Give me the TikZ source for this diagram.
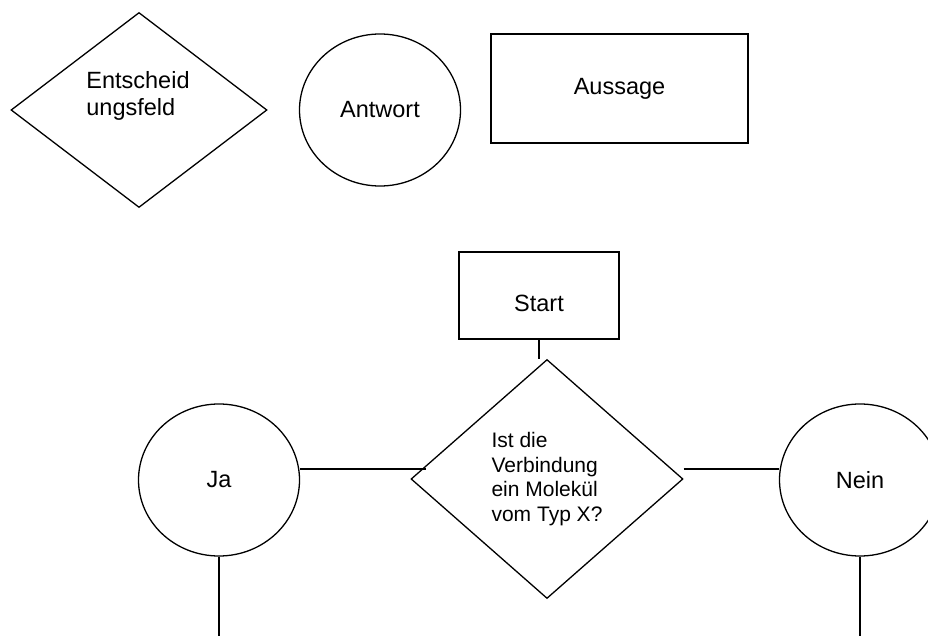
\documentclass[tikz,border=0pt]{standalone}
\usepackage{fontspec}
\setmainfont{Liberation Sans}
\usetikzlibrary{shapes.geometric, calc}

\begin{document}
\begin{tikzpicture}[
        x=1pt, y=-1pt,
        font=\fontsize{23.5}{27}\selectfont,
        box/.style={rectangle, draw=black, line width=2pt, align=center},
        decision/.style={diamond, draw=black, line width=1.3pt, align=left, inner sep=0pt},
        answer/.style={ellipse, draw=black, line width=1.3pt, minimum width=161pt, minimum height=152pt},
        line/.style={black, line width=1.3pt}
    ]
        \useasboundingbox (0,0) rectangle (928,636);

        % Legend shapes
        \node[decision, minimum width=256pt, minimum height=195pt] (legdecision) at (139,110) {};
        \node[align=left] (legdecisiontext) at (138,96) {Entscheid\\ungsfeld};
        \node[answer] (leganswer) at (380,110) {Antwort};
        \node[box, line width=2.6pt, minimum width=257pt, minimum height=109pt] (legstatement) at (619.5,88.5) {Aussage};

        % Flow nodes
        \node[box, minimum width=160pt, minimum height=87pt, text height=33pt] (start) at (539,295.5) {Start};
        \node[decision, minimum width=272pt, minimum height=239pt, font=\fontsize{21}{24.5}\selectfont] (question) at (547,479) {Ist die\\Verbindung\\ein Molekül\\vom Typ X?};
        \node[answer] (yes) at (219,480) {Ja};
        \node[answer] (no) at (860,480) {Nein};

        % Connector ends
        \coordinate (yesend) at ([xshift=16pt, yshift=10pt]question.west);
        \coordinate (nostart) at ([yshift=10pt]question.east);
        \coordinate (yesout) at ($(yes.south)+(0,82)$);
        \coordinate (noout) at ($(no.south)+(0,82)$);

        % Lines
        \draw[line] (start.south) -- (start.south |- question.north);
        \draw[line] (yes.east |- yesend) -- (yesend);
        \draw[line] (nostart) -- (nostart -| no.west);
        \draw[line] (yes.south) -- (yesout);
        \draw[line] (no.south) -- (noout);
    \end{tikzpicture}
\end{document}
